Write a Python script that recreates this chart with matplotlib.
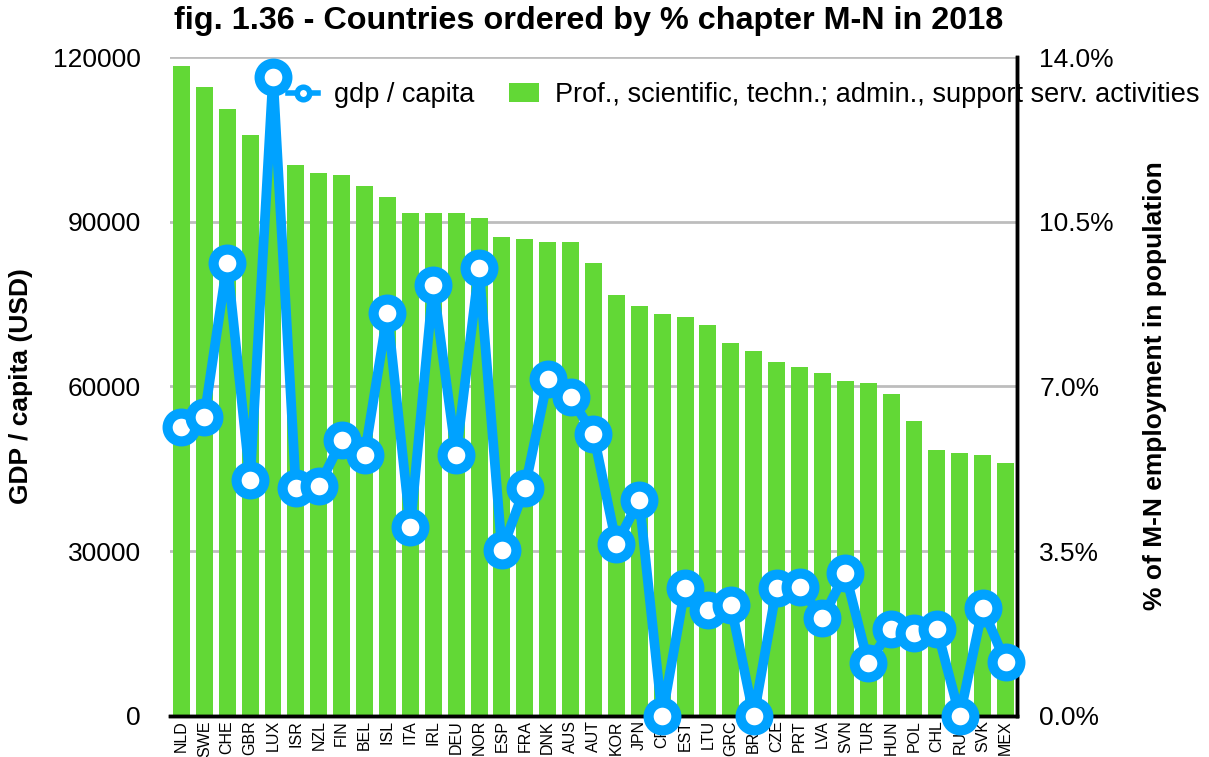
import matplotlib
matplotlib.use("Agg")
import matplotlib.pyplot as plt
import numpy as np
from matplotlib.lines import Line2D

plt.rcParams['font.family'] = ['Liberation Sans', 'DejaVu Sans']

countries = ["NLD", "SWE", "CHE", "GBR", "LUX", "ISR", "NZL", "FIN", "BEL", "ISL",
             "ITA", "IRL", "DEU", "NOR", "ESP", "FRA", "DNK", "AUS", "AUT", "KOR",
             "JPN", "CRI", "EST", "LTU", "GRC", "BRA", "CZE", "PRT", "LVA", "SVN",
             "TUR", "HUN", "POL", "CHL", "RUS", "SVK", "MEX"]

share_mn = [13.81, 13.36, 12.90, 12.34, 12.02, 11.71, 11.54, 11.49, 11.26, 11.03,
            10.69, 10.69, 10.69, 10.58, 10.18, 10.13, 10.07, 10.07, 9.62, 8.94,
            8.71, 8.54, 8.48, 8.31, 7.92, 7.75, 7.52, 7.41, 7.29, 7.12,
            7.07, 6.84, 6.27, 5.65, 5.59, 5.54, 5.37]

gdp_capita = [52700, 54500, 82500, 42900, 116400, 41500, 41800, 50200, 47500, 73300,
              34400, 78500, 47500, 81500, 30200, 41500, 61300, 58000, 51300, 31300,
              39300, 0, 23300, 19300, 20200, 0, 23300, 23500, 17800, 26000,
              9600, 15800, 15100, 15800, 0, 19600, 9800]

left_ticks = [0, 30000, 60000, 90000, 120000]
right_ticks = [0.0, 3.5, 7.0, 10.5, 14.0]

fig = plt.figure(figsize=(12.09, 7.57), dpi=100)
ax1 = fig.add_axes([0.1406, 0.0542, 0.7006, 0.8705])
ax2 = ax1.twinx()

x = np.arange(len(countries))
green = '#62d836'
blue = '#00a2ff'

bars = ax2.bar(x, share_mn, width=0.74, color=green, zorder=2)
ax2.set_ylim(0, 14)
ax2.set_yticks(right_ticks)
ax2.set_yticklabels([f"{v:.1f}%" for v in right_ticks], fontsize=19)
ax2.yaxis.grid(True, color='#bdbdbd', linewidth=2)
ax2.set_axisbelow(True)
ax2.tick_params(axis='y', length=0, pad=16)

ax1.plot(x, gdp_capita, color=blue, linewidth=7, marker='o', markersize=20,
         markerfacecolor='white', markeredgecolor=blue, markeredgewidth=7.3,
         zorder=5, clip_on=False)
ax1.set_ylim(0, 120000)
ax1.set_yticks(left_ticks)
ax1.set_yticklabels([str(v) for v in left_ticks], fontsize=19)
ax1.tick_params(axis='y', length=0, pad=21)
ax1.set_xlim(-0.5, len(countries) - 0.5)
ax1.set_xticks(x)
ax1.set_xticklabels(countries, rotation=90, fontsize=11.5)
ax1.tick_params(axis='x', length=0, pad=3)

ax1.set_zorder(ax2.get_zorder() + 1)
ax1.patch.set_visible(False)

for a in (ax1, ax2):
    a.spines['top'].set_visible(False)
    a.spines['left'].set_visible(False)
    a.spines['bottom'].set_linewidth(2.5)
    a.spines['right'].set_linewidth(2.5)
    a.spines['bottom'].set_color('black')
    a.spines['right'].set_color('black')

fig.text(0.017, 0.49, 'GDP / capita (USD)', rotation=90, fontsize=19,
         fontweight='bold', ha='center', va='center')
fig.text(0.955, 0.49, '% of M-N employment in population', rotation=90, fontsize=19,
         fontweight='bold', ha='center', va='center')

lh = Line2D([], [], color=blue, linewidth=4, marker='o', markersize=9,
            markerfacecolor='white', markeredgecolor=blue, markeredgewidth=4)
fig.legend([lh, bars], ['gdp / capita', 'Prof., scientific, techn.; admin., support serv. activities'],
           loc='center left', bbox_to_anchor=(0.238, 0.874), ncol=2, frameon=False,
           fontsize=19.5, handlelength=1.1, handletextpad=0.6, columnspacing=1.3,
           borderpad=0, borderaxespad=0)

fig.text(0.487, 0.972, 'fig. 1.36 - Countries ordered by % chapter M-N in 2018',
         fontsize=23.3, fontweight='bold', ha='center', va='center')

fig.savefig('out.png', dpi=100)
